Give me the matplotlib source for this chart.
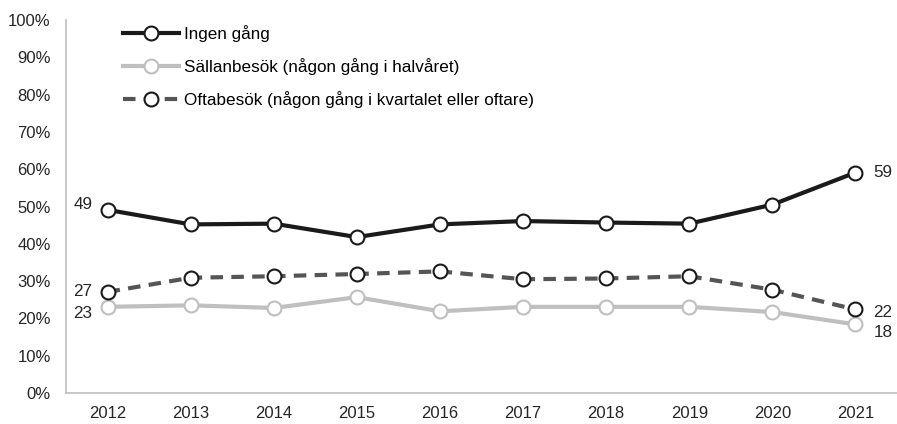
import matplotlib.pyplot as plt
from matplotlib.ticker import PercentFormatter

plt.rcParams["font.family"] = ["Liberation Sans", "DejaVu Sans"]

years = [2012, 2013, 2014, 2015, 2016, 2017, 2018, 2019, 2020, 2021]
ingen = [49.1, 45.2, 45.4, 41.8, 45.2, 46.1, 45.7, 45.4, 50.5, 59.1]
sallan = [23.1, 23.5, 22.8, 25.7, 21.9, 23.1, 23.1, 23.1, 21.7, 18.4]
ofta = [27.1, 30.9, 31.3, 31.9, 32.6, 30.5, 30.7, 31.3, 27.7, 22.4]
names = ["Ingen gång", "Sällanbesök (någon gång i halvåret)",
         "Oftabesök (någon gång i kvartalet eller oftare)"]

fig = plt.figure(figsize=(8.97, 4.24), dpi=100)
ax = fig.add_axes([66 / 897, 1 - 393 / 424, 1 - 66 / 897, 373 / 424])

mk = dict(marker="o", markersize=10, markerfacecolor="white", markeredgewidth=1.5)
ax.plot(years, ingen, color="#1a1a1a", lw=3, markeredgecolor="#1a1a1a", label=names[0], zorder=4, **mk)
ax.plot(years, sallan, color="#bfbfbf", lw=3, markeredgecolor="#bfbfbf", label=names[1], zorder=2, **mk)
ax.plot(years, ofta, color="#555555", lw=3, ls=(0, (3, 2)), markeredgecolor="#1a1a1a", label=names[2], zorder=3, **mk)

# data labels first/last year
lab = dict(fontsize=12.3, color="#262626", va="center", textcoords="offset points")
ax.annotate(f"{ingen[0]:.0f}", (years[0], ingen[0]), xytext=(-11, 4), ha="right", **lab)
ax.annotate(f"{ofta[0]:.0f}", (years[0], ofta[0]), xytext=(-11, 0), ha="right", **lab)
ax.annotate(f"{sallan[0]:.0f}", (years[0], sallan[0]), xytext=(-11, -5), ha="right", **lab)
ax.annotate(f"{ingen[-1]:.0f}", (years[-1], ingen[-1]), xytext=(13, 0), ha="left", **lab)
ax.annotate(f"{ofta[-1]:.0f}", (years[-1], ofta[-1]), xytext=(13, -2), ha="left", **lab)
ax.annotate(f"{sallan[-1]:.0f}", (years[-1], sallan[-1]), xytext=(13, -6), ha="left", **lab)

ax.set_xlim(2011.5, 2021.5)
ax.set_ylim(0, 100)
ax.set_xticks(years)
ax.set_yticks(range(0, 101, 10))
ax.yaxis.set_major_formatter(PercentFormatter(decimals=0))
ax.tick_params(length=0, labelsize=12, colors="#262626")
ax.tick_params(axis="y", pad=11)
ax.tick_params(axis="x", pad=9)
for s in ["top", "right"]:
    ax.spines[s].set_visible(False)
for s in ["left", "bottom"]:
    ax.spines[s].set_color("#bfbfbf")
    ax.spines[s].set_linewidth(1.2)

ax.legend(loc="upper left", bbox_to_anchor=(123 / 897, 1 - 25 / 424), bbox_transform=fig.transFigure,
          frameon=False, fontsize=12.3, handlelength=3.3, handletextpad=0.3, labelspacing=0.95,
          borderaxespad=0, borderpad=0)

fig.savefig("out.png")
